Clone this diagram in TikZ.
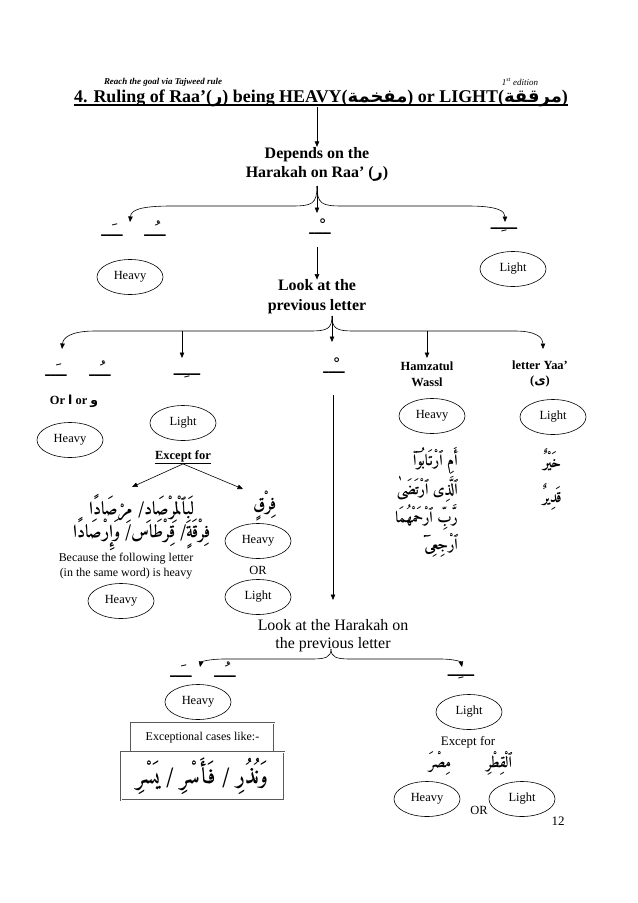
\documentclass[tikz,border=0pt]{standalone}
\usepackage{fontspec}
\setmainfont{Liberation Serif}
\newfontfamily\arabicfont[Script=Arabic]{DejaVu Sans}
\newfontfamily\quran[Script=Arabic,BoldFont=Amiri-Bold.ttf]{Amiri-Regular.ttf}
\TeXXeTstate=1
\usetikzlibrary{arrows.meta,shapes.geometric}
\newcommand\myfs[1]{\fontsize{#1}{#1}\selectfont}
\newcommand\AR[1]{{\arabicfont\beginR #1\endR}}
\newcommand\HK[1]{{\arabicfont\myfs{18}\beginR #1\endR}}
\tikzset{
  arr/.style={-{Triangle[length=5.5bp,width=4.5bp]}, line width=0.6bp},
  ell/.style={ellipse, draw, line width=0.6bp, minimum width=66bp, minimum height=35bp, inner sep=0pt, font=\myfs{12.5}},
  bl/.style={inner sep=0pt, font=\bfseries, align=center},
  rg/.style={inner sep=0pt, align=center},
  hk/.style={inner sep=0pt, anchor=base},
  qt/.style={inner sep=0pt, font=\quran\bfseries\myfs{18}},
  qs/.style={inner sep=0pt, font=\quran\bfseries\myfs{15.5}},
  dbox/.style={draw=gray!70!black, double=white, double distance=0.7bp, line width=0.8bp, inner sep=0pt},
}
\begin{document}
\begin{tikzpicture}[x=1bp,y=-1bp]
\useasboundingbox[fill=white] (0,0) rectangle (638,903);
% header
\node[rg, font=\myfs{9}\bfseries\itshape] (hdrL) at (163,82) {Reach the goal via Tajweed rule};
\node[rg, font=\myfs{9}\itshape] (hdrR) at (520,82) {1\textsuperscript{st} edition};
% title
\node[inner sep=0pt, anchor=base, font=\myfs{18}\bfseries] (title) at (321,102) {4. Ruling of Raa’(\AR{ر}) being HEAVY(\AR{مفخمة}) or LIGHT(\AR{مرققة})};
\draw[line width=1.5bp] ([yshift=-3bp]title.base west) -- ([yshift=-3bp]title.base east);
% depends
\node[bl, font=\bfseries\fontsize{16}{19}\selectfont] (dep) at (317,164) {Depends on the\\Harakah on Raa’ (\AR{ر})};
\draw[arr] (title.south -| dep.north) -- (dep.north);
% row 1 harakat
\node[hk] (h1f) at (112,236) {\HK{ــَــ}};
\node[hk] (h1d) at (155,236) {\HK{ــُــ}};
\node[hk] (h1s) at (320,234) {\HK{ــْــ}};
\node[hk] (h1k) at (504,229) {\HK{ـــِــ}};
\coordinate (b1) at (317,186);
\coordinate (t1L) at (130,222);
\coordinate (t1M) at (317,213);
\coordinate (t1R) at (505,222);
\draw[arr] (b1) .. controls (317,204) and (312,206) .. (292,206) -- (172,206) .. controls (140,206) and (131,210) .. (t1L);
\draw[arr] (b1) .. controls (317,204) and (322,206) .. (342,206) -- (468,206) .. controls (498,206) and (505,211) .. (t1R);
\draw[arr] (b1) -- (t1M);
\node[ell] (heavy1) at (130,277) {Heavy};
\node[ell] (light1) at (513,269) {Light};
% look at previous letter
\node[bl, font=\bfseries\fontsize{16}{20}\selectfont] (look1) at (317,297) {Look at the\\previous letter};
\coordinate (s1) at (317,247);
\draw[arr] (s1) -- (look1.north);
% brace 2
\coordinate (b2) at (332,316);
\coordinate (t2L) at (62,349);
\coordinate (t2M) at (332,342);
\coordinate (t2R) at (543,349);
\coordinate (j2K) at (182,331);
\coordinate (t2K) at (182,358);
\coordinate (j2H) at (427,331);
\coordinate (t2H) at (427,358);
\draw[arr] (b2) .. controls (332,329) and (327,331) .. (310,331) -- (95,331) .. controls (70,331) and (63,338) .. (t2L);
\draw[arr] (b2) .. controls (332,329) and (337,331) .. (354,331) -- (515,331) .. controls (537,331) and (543,338) .. (t2R);
\draw[arr] (b2) -- (t2M);
\draw[arr] (j2K) -- (t2K);
\draw[arr] (j2H) -- (t2H);
% row 2 harakat
\node[hk] (h2f) at (56,376) {\HK{ــَــ}};
\node[hk] (h2d) at (100,376) {\HK{ــُــ}};
\node[hk] (h2k) at (187,375) {\HK{ـــِــ}};
\node[hk] (h2s) at (334,373) {\HK{ــْــ}};
\node[bl, font=\myfs{12.5}\bfseries] (orline) at (74,401) {Or \AR{ا} or \AR{و}};
\node[ell] (heavy2) at (70,440) {Heavy};
\node[ell] (light2) at (183,423) {Light};
\node[bl, font=\myfs{12.5}\bfseries] (exc1) at (183,457) {\underline{Except for}};
\coordinate (e1L) at (132,487);
\coordinate (e1R) at (243,489);
\draw[arr] (exc1.south) -- (e1L);
\draw[arr] (exc1.south) -- (e1R);
\node[qt] (q1) at (142,509) {\beginR لَبِٱلْمِرْصَادِ/ مِرْصَادًا\endR};
\node[qt] (q2) at (142,534) {\beginR فِرْقَةٍ/ قِرْطَاس/ وَإِرْصَادًا\endR};
\node[rg, font=\fontsize{12}{15}\selectfont] (because) at (126,566) {Because the following letter\\(in the same word) is heavy};
\node[ell] (heavy3) at (121,601) {Heavy};
\node[qt] (farq) at (265,506) {\beginR فِرْقٍ\endR};
\node[ell] (heavy4) at (258,541) {Heavy};
\node[rg, font=\myfs{12.5}] (or1) at (258,570) {OR};
\node[ell] (light4) at (258,597) {Light};
% middle long arrow
\coordinate (l1) at (333,395);
\coordinate (l2) at (333,600);
\draw[arr] (l1) -- (l2);
% hamzatul wassl
\node[bl, font=\bfseries\fontsize{12.5}{16}\selectfont] (hamz) at (427,374) {Hamzatul\\Wassl};
\node[ell] (heavy5) at (432,416) {Heavy};
\node[bl, font=\bfseries\fontsize{12.5}{16}\selectfont] (yaa) at (540,374) {letter Yaa’\\(\AR{ى})};
\node[ell] (light5) at (553,417) {Light};
\node[qs, anchor=east] (w1) at (458,461) {\beginR أَمِ ٱرْتَابُوٓا۟\endR};
\node[qs, anchor=east] (w2) at (458,489) {\beginR ٱلَّذِى ٱرْتَضَىٰ\endR};
\node[qs, anchor=east] (w3) at (458,517) {\beginR رَّبِّ ٱرْحَمْهُمَا\endR};
\node[qs, anchor=east] (w4) at (458,545) {\beginR ٱرْجِعِىٓ\endR};
\node[qs] (khayr) at (552,460) {\beginR خَيْرٌ\endR};
\node[qs] (qadir) at (552,497) {\beginR قَدِيرٌ\endR};
% look at the harakah on previous letter
\node[rg, font=\fontsize{16}{18}\selectfont] (look2) at (333,636) {Look at the Harakah on\\the previous letter};
\coordinate (b3) at (331,649);
\coordinate (t3L) at (200,667);
\coordinate (t3R) at (462,667);
\draw[arr] (b3) .. controls (331,657) and (326,659) .. (312,659) -- (225,659) .. controls (208,659) and (201,662) .. (t3L);
\draw[arr] (b3) .. controls (331,657) and (336,659) .. (350,659) -- (440,659) .. controls (455,659) and (461,662) .. (t3R);
\node[hk] (h3f) at (181,677) {\HK{ــَــ}};
\node[hk] (h3d) at (225,677) {\HK{ــُــ}};
\node[ell] (heavy6) at (198,702) {Heavy};
\node[dbox, minimum width=143bp, minimum height=29bp, font=\myfs{12}] (box1) at (202.5,737.5) {Exceptional cases like:-};
\node[dbox, minimum width=163bp, minimum height=48bp, font=\quran\bfseries\myfs{22}] (box2) at (202.5,776) {\beginR وَنُذُرِ / فَأَسْرِ / يَسْرِ\endR};
\node[hk] (h3k) at (461,676) {\HK{ـــِــ}};
\node[ell] (light6) at (469,712) {Light};
\node[rg, font=\myfs{13}] (exc2) at (468,742) {Except for};
\node[qs] (misr) at (440,763) {\beginR مِصْرَ\endR};
\node[qs] (qitr) at (499,763) {\beginR ٱلْقِطْرِ\endR};
\node[ell] (heavy7) at (427,799) {Heavy};
\node[rg, font=\myfs{12.5}] (or2) at (479,810) {OR};
\node[ell] (light7) at (522,799) {Light};
\node[rg, font=\myfs{13}] (page) at (558,821) {12};
\end{tikzpicture}
\end{document}
